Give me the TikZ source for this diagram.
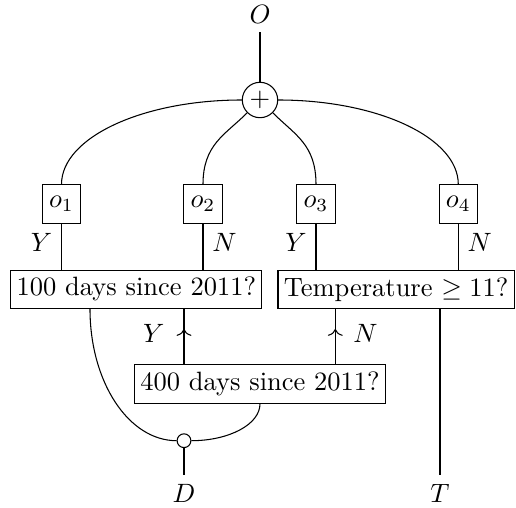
\documentclass[tikz,border=0pt]{standalone}
\usetikzlibrary{decorations.markings,arrows.meta}
\begin{document}
\begin{tikzpicture}[x=0.3774pt,y=-0.3774pt,
  obox/.style={draw,minimum width=14.5pt,minimum height=14.4pt,inner sep=1.5pt},
  qbox/.style={draw,minimum height=14.5pt,inner sep=2.2pt},
  lbl/.style={inner sep=3.33pt},
  midarrow/.style={postaction={decorate,decoration={markings,mark=at position #1 with {\arrow{To[length=2.6pt,width=5.6pt]}}}}}]
\useasboundingbox (0,0) rectangle (516,508);
\node[lbl] (O) at (260,14) {$O$};
\node[draw,circle,minimum size=13.36pt,inner sep=0pt] (plus) at (260,100) {$+$};
\node[obox] (o1) at (61.5,204) {$o_1$};
\node[obox] (o2) at (203,204) {$o_2$};
\node[obox] (o3) at (316,204) {$o_3$};
\node[obox] (o4) at (458.3,204) {$o_4$};
\node[qbox] (A) at (136.3,289.3) {100 days since 2011?};
\node[qbox,anchor=east] (B) at (514.8,289.3) {Temperature $\geq 11$?};
\node[qbox] (C) at (260,384) {400 days since 2011?};
\node[draw,circle,minimum size=5.2pt,inner sep=0pt] (dot) at (184,440.7) {};
\node[lbl] (D) at (184,493) {$D$};
\node[lbl] (T) at (440,493) {$T$};
\coordinate (rx) at (335.3,0);
\coordinate (lx) at (90,0);
% top
\draw (O) -- (plus);
\draw (o1.north) .. controls +(0,-47) and +(-99,0) .. (plus.west);
\draw (o2.north) .. controls +(0,-40) and +(-22,22) .. (plus.-135);
\draw (o3.north) .. controls +(0,-40) and +(22,22) .. (plus.-45);
\draw (o4.north) .. controls +(0,-47) and +(99,0) .. (plus.east);
% o boxes to questions
\draw (o1.south) -- node[left,pos=0.4] {$Y$} (o1.south |- A.north);
\draw (o2.south) -- node[right,pos=0.4] {$N$} (o2.south |- A.north);
\draw (o3.south) -- node[left,pos=0.4] {$Y$} (o3.south |- B.north);
\draw (o4.south) -- node[right,pos=0.4] {$N$} (o4.south |- B.north);
% arrows from C
\draw[midarrow=0.64] (C.north -| dot) -- node[left=3.9pt,pos=0.55] {$Y$} (A.south -| dot);
\draw[midarrow=0.64] (C.north -| rx) -- node[right=3.3pt,pos=0.55] {$N$} (B.south -| rx);
% bottom curves
\draw (A.south -| lx) .. controls +(0,73) and +(-48,0) .. (dot.west);
\draw (C.south) .. controls +(0,21) and +(37,0) .. (dot.east);
\draw (dot) -- (D);
\draw (B.south -| T) -- (T);
\end{tikzpicture}
\end{document}
